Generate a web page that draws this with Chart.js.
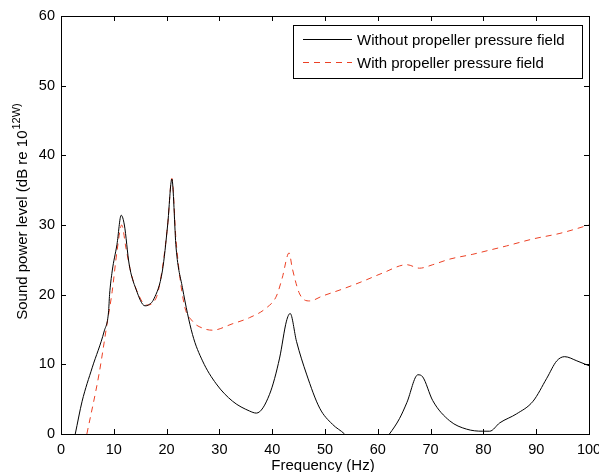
<!DOCTYPE html>
<html>
<head>
<meta charset="utf-8">
<script src="https://cdn.jsdelivr.net/npm/chart.js@4.4.0/dist/chart.umd.min.js"></script>
<style>
  html, body { margin: 0; padding: 0; background: #fff; }
  #wrap { width: 599px; height: 472px; }
</style>
</head>
<body>
<div id="wrap"><canvas id="powerChart" width="599" height="472"></canvas></div>
<script>
const FONT = '"Liberation Sans", Arial, sans-serif';

const xTicks = [0, 10, 20, 30, 40, 50, 60, 70, 80, 90, 100];
const yTicks = [0, 10, 20, 30, 40, 50, 60];

const withoutLabel = 'Without propeller pressure field';
const withoutFreq = [2.7, 4.0, 5.9, 8.2, 9.0, 9.2, 9.7, 10.6, 11.4, 12.0, 12.9, 14.2, 15.9, 16.5, 17.6, 19.2, 20.2, 21.0,
  21.8, 23.0, 24.9, 26.8, 29.4, 32.5, 35.7, 37.0, 39.5, 41.4, 42.7, 43.4, 44.6, 46.5, 49.0, 51.4, 53.7,
  56, 58, 60, 62.2, 64.1, 65.5, 67.6, 68.5, 70.4, 73.6, 76.8, 79.9, 81.2, 83.1, 86.3, 89.4, 92.0, 93.9,
  95.4, 97.7, 100];
const withoutLevel = [0, 4.7, 9.5, 14.8, 17.5, 20, 23.4, 27.2, 31.4, 30, 24.4, 20.8, 18.4, 18.5, 19.4, 23.4, 30, 36.6,
  26.7, 21, 14.3, 10.5, 7.2, 4.7, 3.3, 3.0, 5.7, 10.9, 16.2, 17.3, 13.3, 8.6, 3.7, 1.4, 0,
  -2, -3, -2, 0, 2.2, 4.5, 8.5, 8.2, 4.8, 1.9, 0.7, 0.4, 0.4, 1.6, 2.9, 4.7, 8, 10.5,
  11.1, 10.5, 9.8];

const withLabel = 'With propeller pressure field';
const withFreq = [4.9, 7.2, 8.8, 9.7, 10.6, 11.5, 12.3, 13.3, 14.8, 16.1, 18.0, 19.2, 20.2, 21.0, 21.8, 23.3, 24.9,
  26.8, 28.7, 32.4, 35.7, 38.9, 40.8, 41.9, 43.2, 43.8, 45.2, 47.1, 49.5, 53.3, 57.1, 60.9, 65.5, 67.9,
  70.4, 73.6, 78.0, 81.2, 84.4, 89.4, 94.5, 100];
const withLevel = [0, 8.6, 16.2, 20.5, 26.2, 30, 26.7, 23, 19.8, 18.5, 19.5, 23.8, 30, 36.7, 27.7, 18.7, 16.2,
  15.2, 14.9, 15.8, 16.7, 18.1, 19.8, 22.4, 26, 23.8, 20.1, 19.1, 19.8, 20.8, 21.9, 23.1, 24.3, 23.8,
  24.3, 25.1, 25.8, 26.4, 27, 28, 28.8, 30];

const toPoints = (xs, ys) => xs.map((x, i) => ({ x: x, y: ys[i] }));

// box, inward ticks, axis titles and the boxed legend, matlab style
const matlabFrame = {
  id: 'matlabFrame',
  afterDatasetsDraw(chart) {
    const { ctx, chartArea: a, scales } = chart;
    const tl = 5;
    ctx.save();
    ctx.strokeStyle = '#000';
    ctx.lineWidth = 1;
    ctx.beginPath();
    xTicks.forEach((t) => {
      const px = Math.round(scales.x.getPixelForValue(t)) + 0.5;
      ctx.moveTo(px, a.bottom); ctx.lineTo(px, a.bottom - tl);
      ctx.moveTo(px, a.top); ctx.lineTo(px, a.top + tl);
    });
    yTicks.forEach((t) => {
      const py = Math.round(scales.y.getPixelForValue(t)) + 0.5;
      ctx.moveTo(a.left, py); ctx.lineTo(a.left + tl, py);
      ctx.moveTo(a.right, py); ctx.lineTo(a.right - tl, py);
    });
    ctx.stroke();
    ctx.strokeRect(Math.round(a.left) + 0.5, Math.round(a.top) + 0.5,
      Math.round(a.right - a.left), Math.round(a.bottom - a.top));

    // legend
    const lx = 293.5, ly = 25.5, lw = 289, lh = 53;
    ctx.fillStyle = '#fff';
    ctx.fillRect(lx, ly, lw, lh);
    ctx.strokeRect(lx, ly, lw, lh);
    ctx.font = '15px ' + FONT;
    ctx.textBaseline = 'middle';
    ctx.textAlign = 'left';
    chart.data.datasets.forEach((ds, i) => {
      const y = 39.5 + i * 23;
      ctx.strokeStyle = ds.borderColor;
      ctx.setLineDash(ds.borderDash || []);
      ctx.beginPath();
      ctx.moveTo(303, y); ctx.lineTo(352, y);
      ctx.stroke();
      ctx.setLineDash([]);
      ctx.fillStyle = '#000';
      ctx.fillText(ds.label, 357, y + 1);
    });

    // axis titles
    ctx.fillStyle = '#000';
    ctx.textAlign = 'center';
    ctx.textBaseline = 'alphabetic';
    ctx.font = '15px ' + FONT;
    ctx.fillText('Frequency (Hz)', (a.left + a.right) / 2 - 2, 470);

    ctx.translate(27, 212);
    ctx.rotate(-Math.PI / 2);
    const main = 'Sound power level (dB re 10';
    const sup = '12W)';
    ctx.font = '15px ' + FONT;
    const w1 = ctx.measureText(main).width;
    ctx.font = '11px ' + FONT;
    const w2 = ctx.measureText(sup).width;
    const start = -(w1 + w2) / 2;
    ctx.textAlign = 'left';
    ctx.font = '15px ' + FONT;
    ctx.fillText(main, start, 0);
    ctx.font = '11px ' + FONT;
    ctx.fillText(sup, start + w1 + 1, -7);
    ctx.restore();
  }
};

const ctx = document.getElementById('powerChart');
new Chart(ctx, {
  type: 'line',
  data: {
    datasets: [
      {
        label: withoutLabel,
        data: toPoints(withoutFreq, withoutLevel),
        borderColor: '#000000',
        borderWidth: 1,
        pointRadius: 0,
        cubicInterpolationMode: 'monotone',
        fill: false,
      },
      {
        label: withLabel,
        data: toPoints(withFreq, withLevel),
        borderColor: 'rgb(236,64,36)',
        borderWidth: 1,
        borderDash: [6, 5],
        pointRadius: 0,
        cubicInterpolationMode: 'monotone',
        fill: false,
      },
    ],
  },
  options: {
    responsive: false,
    animation: false,
    events: [],
    layout: { padding: { top: 16, right: 10, left: 0, bottom: 0 } },
    plugins: {
      legend: { display: false },
      tooltip: { enabled: false },
    },
    scales: {
      x: {
        type: 'linear',
        min: 0,
        max: 100,
        afterBuildTicks: (scale) => { scale.ticks = xTicks.map((v) => ({ value: v })); },
        afterFit: (scale) => { scale.height = 38; scale.paddingLeft = 0; scale.paddingRight = 0; },
        grid: { display: false, drawTicks: false },
        border: { display: false },
        ticks: { color: '#000', font: { family: FONT, size: 14.5 }, padding: 7, maxRotation: 0, autoSkip: false },
      },
      y: {
        min: 0,
        max: 60,
        afterBuildTicks: (scale) => { scale.ticks = yTicks.map((v) => ({ value: v })); },
        afterFit: (scale) => { scale.width = 61; },
        grid: { display: false, drawTicks: false },
        border: { display: false },
        ticks: { color: '#000', font: { family: FONT, size: 14.5 }, padding: 6 },
      },
    },
  },
  plugins: [matlabFrame],
});
</script>
</body>
</html>
